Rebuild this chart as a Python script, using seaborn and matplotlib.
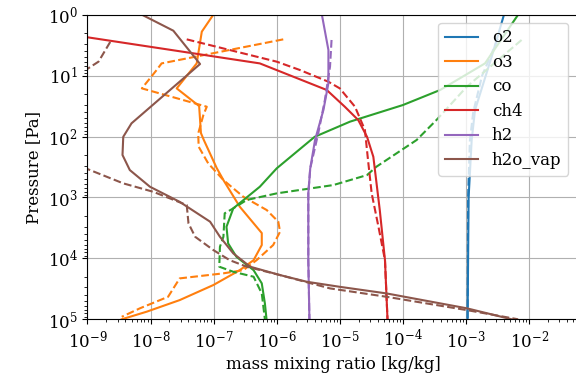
import numpy as np
import pandas as pd
import matplotlib
matplotlib.use("Agg")
import matplotlib.pyplot as plt
import seaborn as sns

species = ["o2", "o3", "co", "ch4", "h2", "h2o_vap"]
colors = ["#1f77b4", "#ff7f0e", "#2ca02c", "#d62728", "#9467bd", "#8c564b"]

# solid profiles (pressure [Pa], mass mixing ratio [kg/kg])
o2_p = [1, 4.9, 36.7, 114, 1e3, 1e4, 1e5]
o2_x = [4.0e-3, 2.55e-3, 1.39e-3, 1.23e-3, 1.1e-3, 1.08e-3, 1.06e-3]
o3_p = [1, 1.9, 6.3, 16.2, 31.6, 87.7, 114, 329, 518, 1420, 3840, 6040,
        1.07e4, 1.56e4, 2.74e4, 4.84e4, 7.5e4, 1e5]
o3_x = [9.9e-8, 6.5e-8, 5.4e-8, 2.6e-8, 5.9e-8, 6.3e-8, 7.0e-8, 1.12e-7, 1.43e-7,
        2.6e-7, 5.8e-7, 5.8e-7, 4.3e-7, 2.6e-7, 9.9e-8, 2.9e-8, 8.7e-9, 3.5e-9]
co_p = [1, 6.3, 17.2, 30.4, 57, 101, 333, 667, 1510, 3030, 5670, 9420,
        1.56e4, 2.57e4, 5.5e4, 1e5]
co_x = [6.7e-3, 2.0e-3, 3.9e-4, 1.0e-4, 1.45e-5, 4.0e-6, 1.0e-6, 5.4e-7, 2.05e-7,
        1.6e-7, 1.7e-7, 2.3e-7, 4.3e-7, 5.8e-7, 6.5e-7, 6.9e-7]
ch4_p = [2.22, 6.3, 17.2, 32.4, 53.6, 101, 215, 1610, 1.07e4, 1e5]
ch4_x = [7e-10, 5.4e-7, 6.2e-6, 1.2e-5, 1.96e-5, 2.7e-5, 3.4e-5, 4.3e-5, 5.2e-5, 5.7e-5]
h2_p = [1, 3.8, 13.4, 36.7, 114, 333, 857, 1.07e4, 1e5]
h2_x = [5.2e-6, 6.6e-6, 6.6e-6, 5.5e-6, 4.05e-6, 3.4e-6, 3.17e-6, 3.17e-6, 3.3e-6]
h2o_p = [1, 1.83, 6.45, 60.7, 101, 201, 355, 667, 1180, 2500, 4420, 8280,
         1.37e4, 1.88e4, 2.42e4, 2.93e4, 3.76e4, 6.6e4, 1e5]
h2o_x = [7.3e-9, 2.3e-8, 6.1e-8, 5.0e-9, 3.7e-9, 3.6e-9, 4.7e-9, 9.8e-9, 2.9e-8,
         8.8e-8, 1.26e-7, 2.05e-7, 3.8e-7, 1.13e-6, 3.0e-6, 1.0e-5, 5.5e-5, 1.03e-3, 5.3e-3]

# dashed profiles
o2d_p = [2.5, 10, 40, 120, 1e3, 1e5]
o2d_x = [3.2e-3, 1.8e-3, 1.3e-3, 1.15e-3, 1.08e-3, 1.06e-3]
o3d_p = [2.54, 6.3, 8.1, 16.2, 32.4, 44, 89, 147, 275, 518, 974, 1610, 2500, 3650,
         6040, 1.07e4, 1.56e4, 1.76e4, 2.13e4, 4.27e4, 6.6e4, 9.1e4]
o3d_x = [1.27e-6, 1.5e-8, 1.25e-8, 7.3e-9, 7.8e-8, 6.9e-8, 5.7e-8, 5.8e-8, 8.2e-8,
         1.43e-7, 2.96e-7, 6.95e-7, 1.06e-6, 1.13e-6, 8.8e-7, 4.8e-7, 2.96e-7,
         1.43e-7, 2.9e-8, 1.9e-8, 6.8e-9, 3.5e-9]
cod_p = [2.6, 15.2, 53.6, 114, 313, 429, 626, 857, 1100, 1510, 1820, 4420, 6450,
         1.37e4, 1.66e4, 2.0e4, 3.76e4, 1e5]
cod_x = [7.6e-3, 1.03e-3, 3.4e-4, 1.65e-4, 3.8e-5, 2.7e-5, 7.9e-6, 1.0e-6, 3.35e-7,
         2.05e-7, 1.5e-7, 1.43e-7, 1.26e-7, 1.23e-7, 2.05e-7, 4.3e-7, 5.8e-7, 6.5e-7]
ch4d_p = [2.54, 5.9, 8.1, 12.6, 16.2, 32.4, 78, 243, 857, 3030, 1.07e4, 1e5]
ch4d_x = [3.75e-8, 1.0e-6, 2.34e-6, 6.6e-6, 1.0e-5, 1.74e-5, 2.5e-5, 2.8e-5, 3.2e-5,
          4.1e-5, 5.2e-5, 5.7e-5]
h2d_p = [2.6, 7.1, 25.2, 88, 333, 857, 1.07e4, 1e5]
h2d_x = [7.4e-6, 7.0e-6, 5.8e-6, 4.56e-6, 3.4e-6, 3.17e-6, 3.17e-6, 3.3e-6]
h2od_p = [2.8, 5.9, 7.6, 12.5, 256, 355, 587, 806, 1333, 2660, 4420, 7300, 1.07e4,
          1.37e4, 1.88e4, 3.11e4, 4.27e4, 7.06e4, 1e5]
h2od_x = [2.3e-9, 1.5e-9, 1.03e-9, 5e-10, 5e-10, 1.1e-9, 3.7e-9, 1.1e-8, 3.75e-8,
          4.0e-8, 5.1e-8, 9.9e-8, 1.8e-7, 3.35e-7, 1.13e-6, 7.0e-6, 5.5e-5, 1.03e-3, 6.7e-3]

solid = [(o2_x, o2_p), (o3_x, o3_p), (co_x, co_p), (ch4_x, ch4_p), (h2_x, h2_p), (h2o_x, h2o_p)]
dashed = [(o2d_x, o2d_p), (o3d_x, o3d_p), (cod_x, cod_p), (ch4d_x, ch4d_p),
          (h2d_x, h2d_p), (h2od_x, h2od_p)]

plt.rcParams["font.family"] = ["DejaVu Serif"]
plt.rcParams["font.size"] = 12

xmax = 0.062
decades = np.log10(xmax) + 9
fig = plt.figure(figsize=(5.76, 3.86), dpi=100)
ax = fig.add_axes([87.4 / 576, 1 - 319.3 / 386, 63.1 * decades / 576, (319.3 - 14.7) / 386])

for name, c, (sx, sp), (dx, dp) in zip(species, colors, solid, dashed):
    df = pd.DataFrame({"x": sx, "p": sp})
    sns.lineplot(data=df, x="x", y="p", sort=False, estimator=None, color=c,
                 lw=1.5, label=name, ax=ax)
    dd = pd.DataFrame({"x": dx, "p": dp})
    sns.lineplot(data=dd, x="x", y="p", sort=False, estimator=None, color=c,
                 lw=1.5, linestyle="--", legend=False, ax=ax)

ax.set_xscale("log")
ax.set_yscale("log")
ax.set_xlim(1e-9, xmax)
ax.set_ylim(1e5, 1e0)
ax.grid(True, which="major", color="#b0b0b0", lw=0.8)
ax.set_xlabel("mass mixing ratio [kg/kg]", fontsize=12)
ax.set_ylabel("Pressure [Pa]", fontsize=12)
ax.tick_params(labelsize=12)
ax.legend(loc="upper right", bbox_to_anchor=(568 / 576, 1 - 22.7 / 386),
          bbox_transform=fig.transFigure, borderaxespad=0, fontsize=12,
          labelspacing=0.45)

fig.savefig("out.png", dpi=100)
